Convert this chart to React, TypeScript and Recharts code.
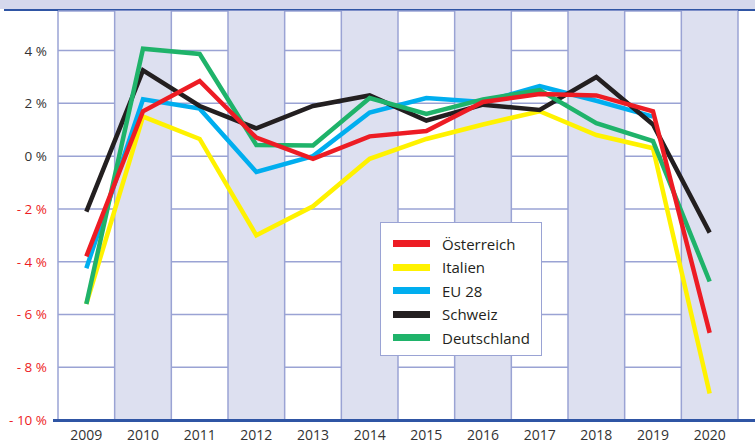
import React from "react";
import {
  LineChart,
  Line,
  XAxis,
  YAxis,
  CartesianGrid,
  ReferenceArea,
  ReferenceLine
} from "recharts";

const years = [2009, 2010, 2011, 2012, 2013, 2014, 2015, 2016, 2017, 2018, 2019, 2020];
const oesterreich = [-3.8, 1.7, 2.85, 0.7, -0.1, 0.75, 0.95, 2.05, 2.35, 2.3, 1.7, -6.7];
const italien = [-5.6, 1.5, 0.65, -3.0, -1.9, -0.1, 0.65, 1.2, 1.7, 0.8, 0.3, -9.0];
const eu28 = [-4.25, 2.15, 1.8, -0.6, 0.0, 1.65, 2.2, 2.05, 2.65, 2.1, 1.5, null];
const schweiz = [-2.1, 3.25, 1.9, 1.05, 1.9, 2.3, 1.35, 1.95, 1.75, 3.0, 1.2, -2.9];
const deutschland = [-5.6, 4.07, 3.87, 0.42, 0.4, 2.2, 1.6, 2.15, 2.5, 1.25, 0.57, -4.75];

const yTicks = [-10, -8, -6, -4, -2, 0, 2, 4];
const shadedYears = [2010, 2012, 2014, 2016, 2018, 2020];

const series = [
  { key: "Österreich", values: oesterreich, color: "#ed1c24" },
  { key: "Italien", values: italien, color: "#fff200" },
  { key: "EU 28", values: eu28, color: "#00aeef" },
  { key: "Schweiz", values: schweiz, color: "#231f20" },
  { key: "Deutschland", values: deutschland, color: "#1fb36a" }
];
// drawing order (last on top)
const drawOrder = ["EU 28", "Italien", "Schweiz", "Deutschland", "Österreich"];

const data = years.map((year, i) => {
  const row: any = { year };
  series.forEach((s) => {
    row[s.key] = s.values[i];
  });
  return row;
});

const FONT = "'Open Sans', 'DejaVu Sans', sans-serif";
const GRID = "#9aa3d4";
const SHADE = "#dde0f0";
const AXIS_BLUE = "#2f55a4";

const YTick = (props: any) => {
  const { x, y, payload } = props;
  const v = payload.value;
  const label = v < 0 ? `- ${-v} %` : `${v} %`;
  return (
    <text
      x={x - 3}
      y={y}
      dy={5}
      textAnchor="end"
      fontSize={13.5}
      fontFamily={FONT}
      fill={v < 0 ? "#ed1c24" : "#333333"}
    >
      {label}
    </text>
  );
};

const XTick = (props: any) => {
  const { x, y, payload } = props;
  return (
    <text
      x={x}
      y={y}
      dy={12}
      textAnchor="middle"
      fontSize={14}
      fontFamily={FONT}
      fill="#333333"
    >
      {payload.value}
    </text>
  );
};

const LegendBox = () => (
  <div
    style={{
      position: "absolute",
      left: 380,
      top: 222,
      width: 162,
      height: 134,
      background: "#ffffff",
      border: `1.5px solid ${GRID}`,
      boxSizing: "border-box",
      paddingTop: 9
    }}
  >
    {series.map((s) => (
      <div
        key={s.key}
        style={{ display: "flex", alignItems: "center", height: 23.5 }}
      >
        <div
          style={{
            width: 37,
            height: 7,
            marginLeft: 12,
            background: s.color
          }}
        />
        <span
          style={{
            marginLeft: 12,
            fontFamily: FONT,
            fontSize: 15,
            color: "#231f20"
          }}
        >
          {s.key}
        </span>
      </div>
    ))}
  </div>
);

export default function App() {
  const boundaries = [...years.map((y) => y - 0.5), years[years.length - 1] + 0.5];
  return (
    <div
      style={{
        position: "absolute",
        left: 0,
        top: 0,
        width: 755,
        height: 444,
        background: "#ffffff",
        overflow: "hidden"
      }}
    >
      <div
        style={{
          position: "absolute",
          left: 0,
          top: 0,
          width: 755,
          height: 9,
          background: "#d5d8ec"
        }}
      />
      <div
        style={{
          position: "absolute",
          left: 4,
          top: 9,
          width: 751,
          height: 2,
          background: AXIS_BLUE
        }}
      />
      <LineChart
        width={755}
        height={444}
        data={data}
        margin={{ top: 11, right: 17, bottom: 0, left: 0 }}
      >
        {shadedYears.map((y) => (
          <ReferenceArea
            key={y}
            x1={y - 0.5}
            x2={y + 0.5}
            fill={SHADE}
            fillOpacity={1}
            stroke="none"
            ifOverflow="visible"
          />
        ))}
        <CartesianGrid vertical={false} stroke={GRID} strokeWidth={1.5} />
        {boundaries.map((b) => (
          <ReferenceLine key={b} x={b} stroke={GRID} strokeWidth={1.5} />
        ))}
        <XAxis
          dataKey="year"
          type="number"
          domain={[2008.5, 2020.5]}
          ticks={years}
          axisLine={false}
          tickLine={false}
          tick={<XTick />}
          height={24}
          interval={0}
        />
        <YAxis
          domain={[-10, 5.5]}
          ticks={yTicks}
          axisLine={false}
          tickLine={false}
          tick={<YTick />}
          width={58}
          interval={0}
        />
        {drawOrder.map((k) => {
          const s = series.find((x) => x.key === k)!;
          return (
            <Line
              key={k}
              type="linear"
              dataKey={k}
              stroke={s.color}
              strokeWidth={4.5}
              dot={false}
              activeDot={false}
              isAnimationActive={false}
              strokeLinejoin="miter"
            />
          );
        })}
      </LineChart>
      <LegendBox />
      <div
        style={{
          position: "absolute",
          left: 53,
          top: 419,
          width: 702,
          height: 3,
          background: AXIS_BLUE
        }}
      />
    </div>
  );
}
